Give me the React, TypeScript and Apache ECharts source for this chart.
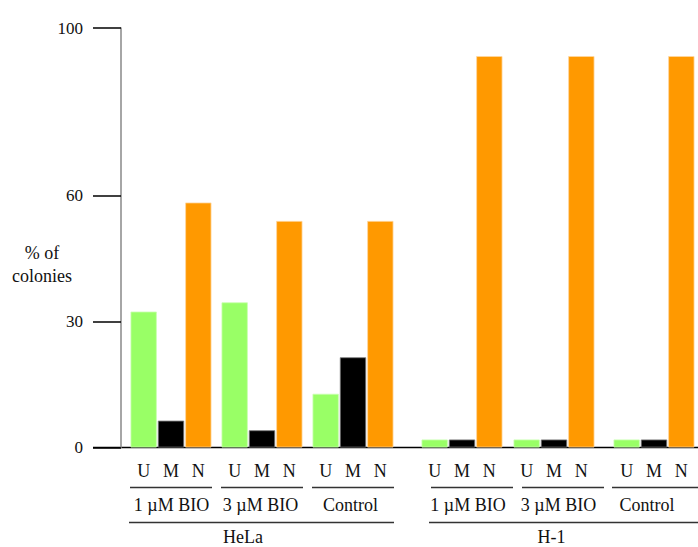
import React, { useEffect, useRef } from "react";
import * as echarts from "echarts";

// ---- data ----
const cellLines = ["HeLa", "H-1"];
const conditions = ["1 µM BIO", "3 µM BIO", "Control", "1 µM BIO", "3 µM BIO", "Control"];
const colonyTypes = ["U", "M", "N"];
const uValues = [32.4, 34.6, 12.8, 1.9, 1.9, 1.9];
const mValues = [6.4, 4.1, 21.5, 1.9, 1.9, 1.9];
const nValues = [58.4, 54.0, 54.0, 93.3, 93.3, 93.3];
const yTicks = [0, 30, 60, 100];
const yLabel = "% of\ncolonies";

// ---- layout ----
const W = 698;
const H = 547;
const TOP = 28;
const BASE = 447.5;
const groupLeft = [130, 221, 312, 421, 513, 613];
const groupWidth = 82;
const condLine = [[130, 212], [221, 303], [312, 394], [431, 513], [522, 604], [612, 698]];
const condTextX = [171.5, 260.5, 350.5, 468, 558.5, 647];
const cellLine = [[129, 394], [429, 698]];
const cellTextX = [243, 551.5];
const colors = ["#99ff66", "#000000", "#ff9900"];
const borders = ["#c9ffb0", "#777777", "#ffd7a0"];
const FONT = "'Liberation Serif', 'Times New Roman', serif";
const TXT = "#111";

export default function App() {
  const ref = useRef<HTMLDivElement>(null);
  useEffect(() => {
    if (!ref.current) return;
    const chart = echarts.init(ref.current, undefined, { renderer: "svg" });
    const grids = groupLeft.map((l) => ({ left: l, width: groupWidth, top: TOP, bottom: H - BASE }));
    const xAxes = groupLeft.map((_, i) => ({
      type: "category",
      gridIndex: i,
      data: colonyTypes,
      axisLine: { show: false },
      axisTick: { show: false },
      axisLabel: { fontSize: 18, fontFamily: FONT, color: TXT, margin: 14 },
    }));
    const yAxes = groupLeft.map((_, i) => ({
      type: "value",
      gridIndex: i,
      min: 0,
      max: 100,
      show: i === 0,
      offset: 9,
      splitLine: { show: false },
      axisLine: { show: true, lineStyle: { color: "#888", width: 1.5 } },
      axisTick: { show: true, customValues: yTicks, length: 28, lineStyle: { color: "#000", width: 1.5 } },
      axisLabel: { customValues: yTicks, fontSize: 17, fontFamily: FONT, color: TXT, margin: 38 },
    }));
    const series = groupLeft.map((_, i) => ({
      type: "bar",
      xAxisIndex: i,
      yAxisIndex: i,
      barWidth: "96%",
      data: [uValues[i], mValues[i], nValues[i]].map((v, k) => ({
        value: v,
        itemStyle: { color: colors[k], borderColor: borders[k], borderWidth: 0.8 },
      })),
    }));
    const graphic: any[] = [];
    graphic.push({
      type: "line",
      shape: { x1: 93, y1: BASE, x2: W, y2: BASE },
      style: { stroke: "#000", lineWidth: 1.5 },
    });
    conditions.forEach((c, i) => {
      graphic.push({
        type: "line",
        shape: { x1: condLine[i][0], y1: 487.5, x2: condLine[i][1], y2: 487.5 },
        style: { stroke: "#333", lineWidth: 1.5 },
      });
      graphic.push({
        type: "text",
        x: condTextX[i],
        y: 505,
        style: { text: c, fontSize: 18, fontFamily: FONT, fill: TXT, textAlign: "center", textVerticalAlign: "middle" },
      });
    });
    cellLines.forEach((c, i) => {
      graphic.push({
        type: "line",
        shape: { x1: cellLine[i][0], y1: 522.5, x2: cellLine[i][1], y2: 522.5 },
        style: { stroke: "#333", lineWidth: 1.5 },
      });
      graphic.push({
        type: "text",
        x: cellTextX[i],
        y: 537,
        style: { text: c, fontSize: 18, fontFamily: FONT, fill: TXT, textAlign: "center", textVerticalAlign: "middle" },
      });
    });
    graphic.push({
      type: "text",
      x: 42,
      y: 264,
      style: {
        text: yLabel,
        fontSize: 18,
        lineHeight: 23,
        fontFamily: FONT,
        fill: TXT,
        textAlign: "center",
        textVerticalAlign: "middle",
      },
    });
    chart.setOption({
      animation: false,
      backgroundColor: "#fff",
      grid: grids,
      xAxis: xAxes,
      yAxis: yAxes,
      series,
      graphic,
    });
    return () => chart.dispose();
  }, []);
  return <div ref={ref} style={{ position: "absolute", left: 0, top: 0, width: W, height: H }} />;
}
